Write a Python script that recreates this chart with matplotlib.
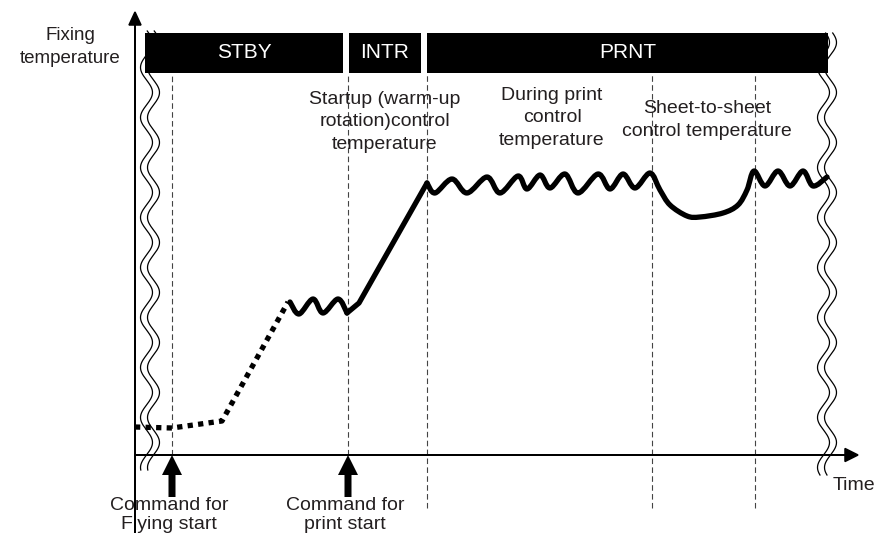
import numpy as np
import matplotlib.pyplot as plt
from matplotlib.path import Path
from matplotlib.patches import PathPatch

plt.rcParams['font.family'] = ['Liberation Sans', 'DejaVu Sans']
INK = '#231f20'

# header states: name, start, end (time units)
states = ['STBY', 'INTR', 'PRNT']
state_start = [10, 214, 292]
state_end = [208, 286, 693]

# dotted part: flying start pre-heat
warm_t = [0, 37, 87, 153]
warm_T = [28, 27, 34, 153]

# standby ripple
stby_t = [155, 164, 178, 188, 203, 212]
stby_T = [153, 141, 156, 142, 156, 142]

# warm-up ramp
ramp_t = [212, 224, 292]
ramp_T = [142, 152, 272]

# print control ripple and sheet-to-sheet dip
prnt_t = [292, 300, 317, 332, 352, 365, 383, 392, 405, 415, 430, 443, 463, 475,
          488, 500, 515, 525, 535, 552, 565, 588, 603, 612, 619, 630, 643, 655,
          668, 678, 692]
prnt_T = [272, 262, 276, 262, 278, 262, 279, 266, 280, 267, 281, 262, 281, 266,
          281, 267, 282, 265, 250, 239, 238, 242, 250, 265, 284, 269, 284, 269,
          284, 269, 278]

# event markers
guide_t = [37, 213, 292, 517, 620]
guide_low = [0, 0, -53, -53, -53]
cmd_t = [37, 213]
cmd_labels = ['Command for\nFlying start', 'Command for\nprint start']


def smooth_path(xs, ys):
    # Catmull-Rom through the points, drawn as cubic Bezier pieces
    p = np.column_stack([xs, ys]).astype(float)
    verts = [p[0]]
    codes = [Path.MOVETO]
    for i in range(len(p) - 1):
        p0 = p[i - 1] if i > 0 else p[i]
        p3 = p[i + 2] if i + 2 < len(p) else p[i + 1]
        c1 = p[i] + (p[i + 1] - p0) / 6
        c2 = p[i + 1] - (p3 - p[i]) / 6
        verts += [c1, c2, p[i + 1]]
        codes += [Path.CURVE4] * 3
    return Path(verts, codes)


fig = plt.figure(figsize=(8.75, 5.33), dpi=100)
ax = fig.add_axes([0, 0, 1, 1])
ax.set_xlim(-135, 740)
ax.set_ylim(-78, 455)
ax.axis('off')

# break marks
for x0, lo, hi in [(15, -15, 424), (692, -20, 422)]:
    yy = np.linspace(lo, hi, 500)
    for off in (-3.5, 3.5):
        ax.plot(x0 + off + 6 * np.sin(2 * np.pi * yy / 50), yy, color='k', lw=0.9, zorder=1)

# guide lines
for t, lo in zip(guide_t, guide_low):
    ax.plot([t, t], [lo, 382], color='#444444', lw=0.8, ls=(0, (5, 3)), zorder=1)

# state bars
widths = [e - s for s, e in zip(state_start, state_end)]
ax.barh([402] * 3, widths, left=state_start, height=40, color='k', zorder=2)
for name, s, e in zip(states, state_start, state_end):
    fam = ['Liberation Sans Narrow', 'Liberation Sans'] if name == 'INTR' else None
    ax.text((s + e) / 2, 403, name, color='white', fontsize=15, ha='center',
            va='center', family=fam, zorder=3)

# axes
ax.arrow(0, -78, 0, 521, head_width=12, head_length=13, length_includes_head=True,
         lw=1.1, fc='k', ec='k', zorder=4)
ax.arrow(0, 0, 723, 0, head_width=13, head_length=13, length_includes_head=True,
         lw=1.1, fc='k', ec='k', zorder=4)

# temperature curve
ax.plot(warm_t, warm_T, color='k', lw=3.8, ls=(0, (1, 1)), dash_capstyle='butt', zorder=5)
ax.plot(ramp_t, ramp_T, color='k', lw=3.8, solid_joinstyle='round',
        solid_capstyle='round', zorder=5)
for xs, ys in [(stby_t, stby_T), (prnt_t, prnt_T)]:
    ax.add_patch(PathPatch(smooth_path(xs, ys), fc='none', ec='k', lw=3.8,
                           capstyle='round', joinstyle='round', zorder=5))

# command arrows
for t, lab in zip(cmd_t, cmd_labels):
    ax.arrow(t, -42, 0, 42, width=7, head_width=20, head_length=20,
             length_includes_head=True, fc='k', ec='none', zorder=5)
    ax.text(t - 3, -60, lab, fontsize=14, color=INK, ha='center', va='center',
            linespacing=1.18)

ax.text(-65, 408, 'Fixing\ntemperature', fontsize=13.5, color=INK, ha='center',
        va='center', linespacing=1.42)
ax.text(250, 333, 'Startup (warm-up\nrotation)control\ntemperature', fontsize=14,
        color=INK, ha='center', va='center', linespacing=1.42)
ax.text(417, 337, 'During print\ncontrol\ntemperature', fontsize=14, color=INK,
        ha='center', va='center', linespacing=1.42)
ax.text(572, 335, 'Sheet-to-sheet\ncontrol temperature', fontsize=14, color=INK,
        ha='center', va='center', linespacing=1.42)
ax.text(698, -31, 'Time', fontsize=14, color=INK, ha='left', va='center')

plt.savefig('out.png', dpi=100)
